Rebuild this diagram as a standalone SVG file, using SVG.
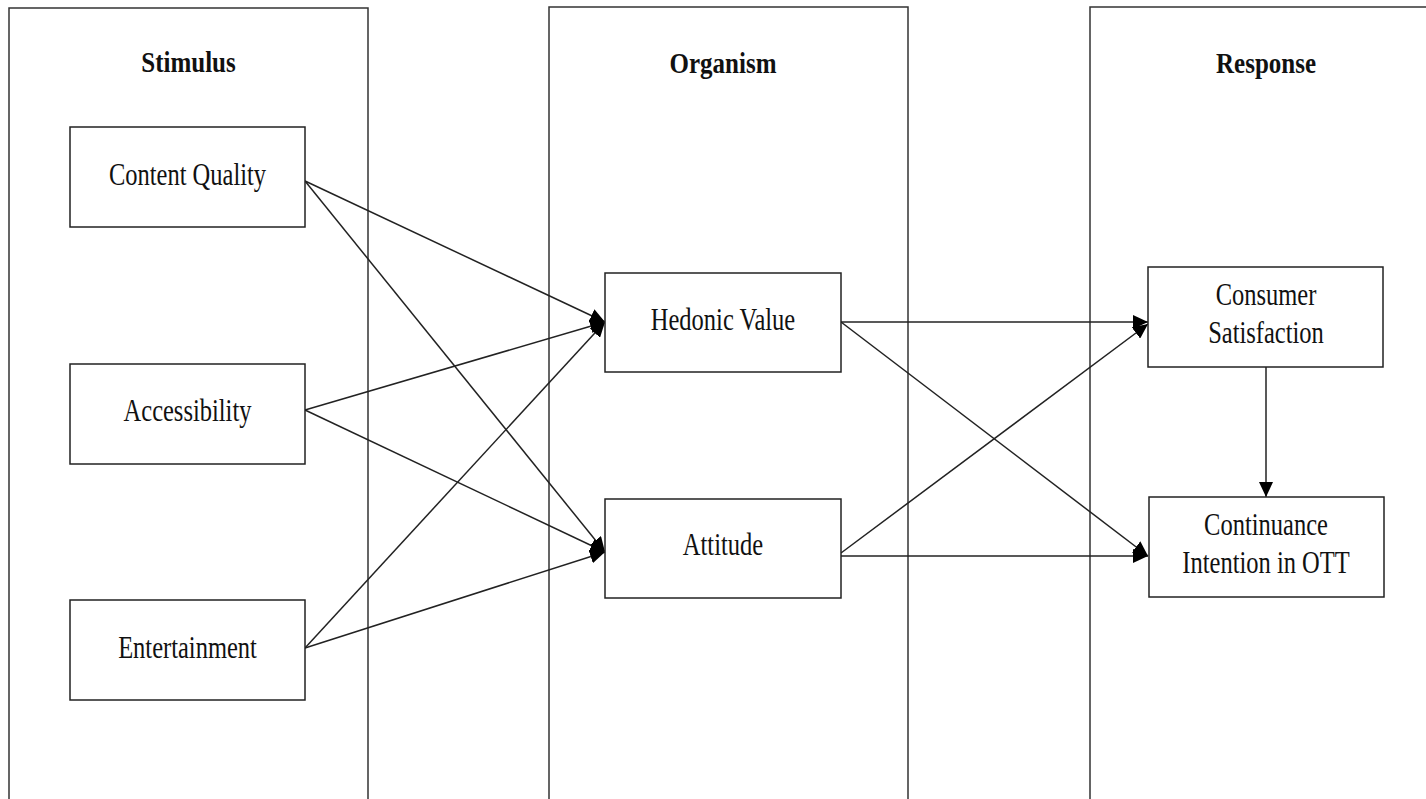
<svg xmlns="http://www.w3.org/2000/svg" width="1426" height="799" viewBox="0 0 1426 799">
<style>
  .col { fill: none; stroke: #333; stroke-width: 1.5; }
  .node rect { fill: #fff; stroke: #222; stroke-width: 1.5; }
  .lbl { font-family: "Liberation Serif", "Times New Roman", serif; font-size: 24.5px; fill: #111; text-anchor: middle; }
  .ttl { font-family: "Liberation Serif", "Times New Roman", serif; font-size: 25px; font-weight: bold; fill: #111; text-anchor: middle; }
  .edge { stroke: #222; stroke-width: 1.5; fill: none; marker-end: url(#arr); }
</style>
<defs>
  <marker id="arr" markerUnits="userSpaceOnUse" markerWidth="16" markerHeight="14" refX="15" refY="7" orient="auto">
    <path d="M0,0 L15,7 L0,14 Z" fill="#000"/>
  </marker>
</defs>
<rect width="1426" height="799" fill="#fff"/>
<g id="columns">
  <path class="col" d="M9,800 V8 H368 V800"/>
  <path class="col" d="M549,800 V7 H908 V800"/>
  <path class="col" d="M1090,800 V7 H1430"/>
  <text class="ttl" transform="translate(188.5,72) scale(1,1.22)">Stimulus</text>
  <text class="ttl" transform="translate(723,73) scale(1,1.22)">Organism</text>
  <text class="ttl" transform="translate(1266,73) scale(1,1.22)">Response</text>
</g>
<g id="connectors">
  <line class="edge" x1="305" y1="181" x2="605" y2="322"/>
  <line class="edge" x1="305" y1="181" x2="605" y2="552"/>
  <line class="edge" x1="305" y1="410" x2="605" y2="322"/>
  <line class="edge" x1="305" y1="410" x2="605" y2="552"/>
  <line class="edge" x1="305" y1="648" x2="605" y2="322"/>
  <line class="edge" x1="305" y1="648" x2="605" y2="552"/>
  <line class="edge" x1="841" y1="322" x2="1148" y2="322"/>
  <line class="edge" x1="841" y1="322" x2="1148" y2="556"/>
  <line class="edge" x1="841" y1="553" x2="1148" y2="324"/>
  <line class="edge" x1="841" y1="556" x2="1148" y2="556"/>
  <line class="edge" x1="1266" y1="367" x2="1266" y2="497"/>
</g>
<g id="content-quality" class="node">
  <rect x="70" y="127" width="235" height="100"/>
  <text class="lbl" transform="translate(187.5,185) scale(1,1.25)">Content Quality</text>
</g>
<g id="accessibility" class="node">
  <rect x="70" y="364" width="235" height="100"/>
  <text class="lbl" transform="translate(187.5,421) scale(1,1.25)">Accessibility</text>
</g>
<g id="entertainment" class="node">
  <rect x="70" y="600" width="235" height="100"/>
  <text class="lbl" transform="translate(187.5,658) scale(1,1.25)">Entertainment</text>
</g>
<g id="hedonic-value" class="node">
  <rect x="605" y="273" width="236" height="99"/>
  <text class="lbl" transform="translate(723,330) scale(1,1.25)">Hedonic Value</text>
</g>
<g id="attitude" class="node">
  <rect x="605" y="499" width="236" height="99"/>
  <text class="lbl" transform="translate(723,555) scale(1,1.25)">Attitude</text>
</g>
<g id="consumer-satisfaction" class="node">
  <rect x="1148" y="267" width="235" height="100"/>
  <text class="lbl" transform="translate(1266,305) scale(1,1.25)">Consumer</text>
  <text class="lbl" transform="translate(1266,343) scale(1,1.25)">Satisfaction</text>
</g>
<g id="continuance-intention" class="node">
  <rect x="1149" y="497" width="235" height="100"/>
  <text class="lbl" transform="translate(1266,535) scale(1,1.25)">Continuance</text>
  <text class="lbl" transform="translate(1266,573) scale(1,1.25)">Intention in OTT</text>
</g>
</svg>
